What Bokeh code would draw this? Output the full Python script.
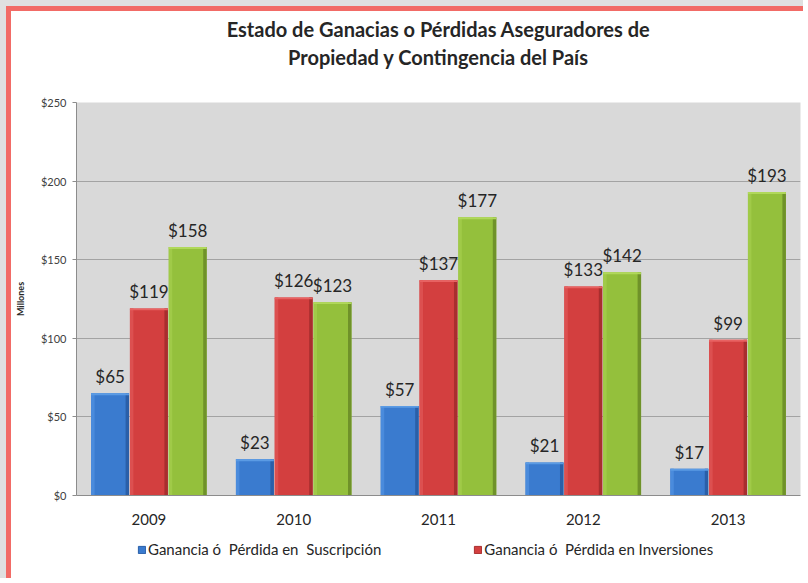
from bokeh.plotting import figure
from bokeh.layouts import column
from bokeh.models import (ColumnDataSource, FactorRange, Range1d, FixedTicker, Title,
                          Legend, LegendItem)
from bokeh.transform import dodge
from bokeh.core.properties import value
from bokeh.embed import file_html
from bokeh.resources import INLINE

# ---- data ----
years = ["2009", "2010", "2011", "2012", "2013"]
suscripcion = [65, 23, 57, 21, 17]
inversiones = [119, 126, 137, 133, 99]
neta = [158, 123, 177, 142, 193]
y_ticks = [0, 50, 100, 150, 200, 250]
y_tick_labels = ["$0", "$50", "$100", "$150", "$200", "$250"]
title_line1 = "Estado de Ganacias o Pérdidas Aseguradores de"
title_line2 = "Propiedad y Contingencia del País"
legend_suscripcion = "Ganancia ó  Pérdida en  Suscripción"
legend_inversiones = "Ganancia ó  Pérdida en Inversiones"

FONT = "Lato"
BLUE, RED, GREEN = "#3a7bcf", "#d33f3f", "#94c03c"
BORDER = "5px solid #f26b66"

p = figure(x_range=FactorRange(*years), y_range=Range1d(0, 250),
           width=797, height=524, output_backend="svg", toolbar_location=None,
           min_border_left=65, min_border_right=8, min_border_top=91, min_border_bottom=40)
p.styles = {"border-left": BORDER, "border-top": BORDER}
p.title = None

# spacer + two title lines (added from the frame outwards)
p.add_layout(Title(text=" ", text_font_size="10px", standoff=20), "above")
p.add_layout(Title(text=title_line2, align="center", text_font=FONT, text_font_size="20px",
                   text_font_style="bold", text_color="#262626", standoff=2), "above")
p.add_layout(Title(text=title_line1, align="center", text_font=FONT, text_font_size="20px",
                   text_font_style="bold", text_color="#262626", standoff=2), "above")

p.background_fill_color = "#d9d9d9"
p.border_fill_color = "white"
p.outline_line_color = None

p.xgrid.grid_line_color = None
p.ygrid.grid_line_color = "#a3a3a3"
p.ygrid.ticker = FixedTicker(ticks=y_ticks)

p.yaxis.ticker = FixedTicker(ticks=y_ticks)
p.yaxis.major_label_overrides = {t: l for t, l in zip(y_ticks, y_tick_labels)}
p.yaxis.major_label_text_font = FONT
p.yaxis.major_label_text_font_size = "11px"
p.yaxis.major_label_text_color = "#404040"
p.yaxis.axis_line_color = "#8c8c8c"
p.yaxis.major_tick_line_color = "#8c8c8c"
p.yaxis.major_tick_out = 4
p.yaxis.major_tick_in = 0
p.yaxis.minor_tick_line_color = None
p.yaxis.major_label_standoff = 6
p.yaxis.axis_label = "Millones"
p.yaxis.axis_label_text_font = FONT
p.yaxis.axis_label_text_font_size = "9px"
p.yaxis.axis_label_text_font_style = "bold"
p.yaxis.axis_label_text_color = "#262626"
p.yaxis.axis_label_standoff = 12

p.xaxis.major_label_text_font = FONT
p.xaxis.major_label_text_font_size = "15px"
p.xaxis.major_label_text_color = "#262626"
p.xaxis.axis_line_color = "#8c8c8c"
p.xaxis.major_tick_line_color = None
p.xaxis.major_label_standoff = 12

src = ColumnDataSource(dict(
    year=years,
    s=suscripcion, i=inversiones, n=neta,
    s_cap=[v - 1.2 for v in suscripcion],
    i_cap=[v - 1.2 for v in inversiones],
    n_cap=[v - 1.2 for v in neta],
    s_lab=["$%d" % v for v in suscripcion],
    i_lab=["$%d" % v for v in inversiones],
    n_lab=["$%d" % v for v in neta],
))

OFF = 0.268
BW = 0.262
series = [
    ("s", -OFF, BLUE, "#5b9be4", "#2a5fa8", "#4a8bdc"),
    ("i", 0.0, RED, "#e86262", "#a82e2e", "#dc5050"),
    ("n", OFF, GREEN, "#b0d85a", "#6f9229", "#a0ca48"),
]
for key, off, body, cap, dark, light in series:
    p.vbar(x=dodge("year", off, range=p.x_range), top=key, bottom=0, width=BW,
           source=src, fill_color=body, line_color=None)
    p.vbar(x=dodge("year", off - BW / 2 + 0.012, range=p.x_range), top=key, bottom=0,
           width=0.024, source=src, fill_color=light, line_color=None)
    p.vbar(x=dodge("year", off + BW / 2 - 0.012, range=p.x_range), top=key, bottom=0,
           width=0.024, source=src, fill_color=dark, line_color=None)
    p.vbar(x=dodge("year", off, range=p.x_range), top=key, bottom=key + "_cap", width=BW,
           source=src, fill_color=cap, line_color=None)
    p.text(x=dodge("year", off, range=p.x_range), y=key, text=key + "_lab", source=src,
           text_align="center", text_baseline="bottom", y_offset=-6,
           text_font=value(FONT), text_font_size="17px", text_color="#262626")

# ---- legend strip below the chart ----
lf = figure(width=797, height=48, x_range=Range1d(0, 1), y_range=Range1d(0, 1),
            output_backend="svg", toolbar_location=None,
            min_border_left=0, min_border_right=0, min_border_top=0, min_border_bottom=0)
lf.styles = {"border-left": BORDER}
lf.axis.visible = False
lf.grid.visible = False
lf.outline_line_color = None
lf.background_fill_color = "white"
lf.border_fill_color = "white"
# legend proxies (kept outside the visible strip)
proxy = ColumnDataSource(dict(x=[-5], top=[-5], bottom=[-6]))
r_s = lf.vbar(x="x", top="top", bottom="bottom", width=0.1, source=proxy,
              fill_color=BLUE, line_color="#2a5fa8")
r_i = lf.vbar(x="x", top="top", bottom="bottom", width=0.1, source=proxy,
              fill_color=RED, line_color="#a82e2e")
legend = Legend(items=[LegendItem(label=legend_suscripcion, renderers=[r_s]),
                       LegendItem(label=legend_inversiones, renderers=[r_i])],
                orientation="horizontal", location=(61, 20), spacing=92,
                glyph_width=9, glyph_height=9, label_standoff=2, padding=2, margin=0,
                label_text_font=FONT, label_text_font_size="15px", label_text_color="#262626",
                border_line_color=None, background_fill_alpha=0)
lf.add_layout(legend, "center")

layout = column(p, lf, spacing=0,
                styles={"border-left": "6px solid #e0e0e0", "border-top": "6px solid #e0e0e0",
                        "background-color": "white"})

open("out.html", "w").write(file_html(layout, INLINE))
